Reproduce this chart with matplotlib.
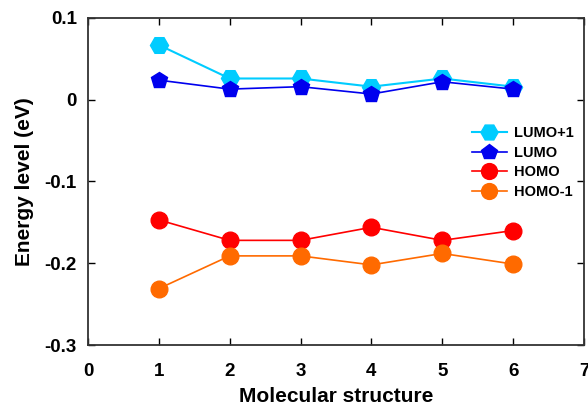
import matplotlib
matplotlib.use("Agg")
import matplotlib.pyplot as plt

plt.rcParams['font.family'] = ['Liberation Sans', 'DejaVu Sans']

# données
x = [1, 2, 3, 4, 5, 6]
lumo1 = [0.067, 0.026, 0.026, 0.016, 0.026, 0.016]
lumo = [0.024, 0.013, 0.016, 0.007, 0.022, 0.013]
homo = [-0.147, -0.172, -0.172, -0.156, -0.172, -0.160]
homo1 = [-0.231, -0.191, -0.191, -0.202, -0.188, -0.201]

fig = plt.figure(figsize=(5.88, 4.07), dpi=100)
ax = fig.add_axes([88/588, 62/407, 496/588, 327/407])

ax.plot(x, lumo1, color="#00ccff", marker="H", markersize=13, linewidth=1.5, label="LUMO+1")
ax.plot(x, lumo, color="#0000ee", marker="p", markersize=12, linewidth=1.2, label="LUMO")
ax.plot(x, homo, color="#ff0000", marker="o", markersize=12, linewidth=1.2, label="HOMO")
ax.plot(x, homo1, color="#ff6a00", marker="o", markersize=12, linewidth=1.2, label="HOMO-1")

ax.set_xlim(0, 7)
ax.set_ylim(-0.3, 0.1)
ax.set_xticks(range(0, 8))
ax.set_yticks([-0.3, -0.2, -0.1, 0, 0.1])
ax.set_yticklabels(["-0.3", "-0.2", "-0.1", "0", "0.1"])
ax.tick_params(direction="in", top=True, right=True, length=5, width=1,
               labelsize=13.5)
ax.tick_params(axis="x", pad=13)
ax.tick_params(axis="y", pad=8)
for lab in ax.get_xticklabels() + ax.get_yticklabels():
    lab.set_fontweight("bold")
for s in ax.spines.values():
    s.set_linewidth(1.3)
    s.set_color("#333333")

ax.set_xlabel("Molecular structure", fontsize=15, fontweight="bold", labelpad=5)
ax.set_ylabel("Energy level (eV)", fontsize=15, fontweight="bold", labelpad=8)

leg = ax.legend(loc="upper right", bbox_to_anchor=(1.0, 0.70), frameon=False,
                prop={"weight": "bold", "size": 10.5}, handlelength=2.4,
                labelspacing=0.38, borderaxespad=0.3, markerscale=0.95,
                handletextpad=0.5)

plt.savefig("out.png", dpi=100)
